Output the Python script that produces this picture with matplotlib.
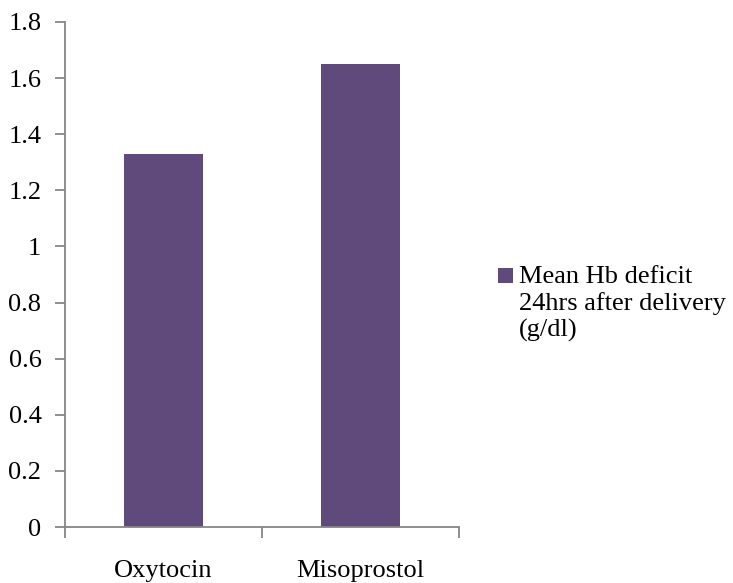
import matplotlib
matplotlib.use("Agg")
import matplotlib.pyplot as plt
from matplotlib.patches import Rectangle
from matplotlib.ticker import MultipleLocator, FixedLocator, FuncFormatter

# Mean haemoglobin deficit 24 hours after delivery, by drug
categories = ["Oxytocin", "Misoprostol"]
hb_deficit = [1.33, 1.65]
series_label = "Mean Hb deficit\n24hrs after delivery\n(g/dl)"

bar_color = "#604A7B"
axis_color = "#868686"

plt.rcParams["font.family"] = ["Liberation Serif", "DejaVu Serif"]
plt.rcParams["font.size"] = 19

W, H = 733, 583
fig = plt.figure(figsize=(W / 100, H / 100), dpi=100)
ax = fig.add_axes([65 / W, (H - 527) / H, (459 - 65) / W, (527 - 22) / H])

x = list(range(len(categories)))
bars = ax.bar(x, hb_deficit, width=0.4, color=bar_color, zorder=2)

ax.set_xlim(-0.5, len(categories) - 0.5)
ax.set_ylim(0, 1.8)
ax.yaxis.set_major_locator(MultipleLocator(0.2))
ax.yaxis.set_major_formatter(
    FuncFormatter(lambda v, p: "0" if abs(v) < 1e-9 else f"{v:.1f}".rstrip("0").rstrip(".")))

# category labels centred between boundary ticks
ax.set_xticks(x)
ax.set_xticklabels(categories)
ax.tick_params(axis="x", length=0, pad=24)
ax.xaxis.set_minor_locator(FixedLocator([-0.5 + i for i in range(len(categories) + 1)]))
ax.tick_params(axis="x", which="minor", length=8, width=1.3, color=axis_color, direction="out")
ax.tick_params(axis="y", length=7, width=1.3, color=axis_color, direction="out", pad=10)

for side in ("top", "right"):
    ax.spines[side].set_visible(False)
for side in ("left", "bottom"):
    ax.spines[side].set_color(axis_color)
    ax.spines[side].set_linewidth(1.3)

# legend: square swatch beside the first line of a three-line label
fig.patches.append(Rectangle((498 / W, 1 - 283 / H), 15 / W, 15 / H,
                             transform=fig.transFigure, facecolor=bar_color,
                             edgecolor="none"))
fig.text(519 / W, 1 - 337 / H, series_label, ha="left", va="baseline",
         linespacing=1.22, fontsize=19)

fig.savefig("out.png", dpi=100)
